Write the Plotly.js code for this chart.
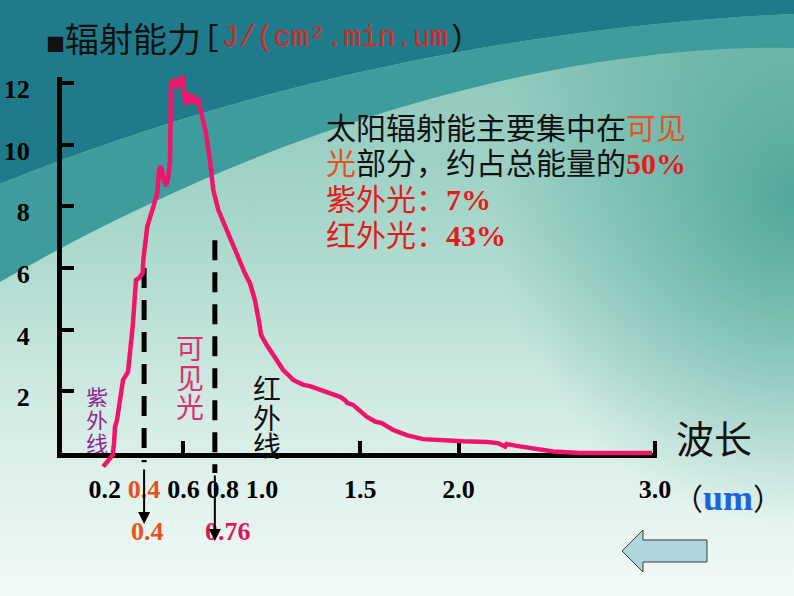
<!DOCTYPE html>
<html><head><meta charset="utf-8">
<script src="https://cdn.plot.ly/plotly-3.0.1.min.js"></script>
<style>
html,body{margin:0;padding:0;background:#fff;}
#chart{width:794px;height:596px;background:
 radial-gradient(ellipse 300px 330px at 100% 33%, rgba(72,164,150,0.9), rgba(72,164,150,0) 100%),
 linear-gradient(180deg, #86c3b6 0%, #a8d7cb 38%, #d4ece5 70%, #f2faf7 100%);}
</style></head><body><div id="chart"></div>
<script>
// ---- data ----
const wavelength = [0.192,0.216,0.240,0.247,0.252,0.262,0.286,0.293,0.318,0.328,0.342,0.354,0.359,0.376,0.393,0.396,0.405,0.416,0.447,0.467,0.476,0.484,0.501,0.511,0.523,0.532,0.537,0.557,0.569,0.586,0.596,0.603,0.610,0.625,0.639,0.650,0.664,0.676,0.693,0.715,0.735,0.752,0.778,0.812,0.846,0.879,0.913,0.939,0.964,0.986,0.995,1.024,1.066,1.108,1.159,1.210,1.244,1.329,1.397,1.422,1.433,1.463,1.489,1.533,1.575,1.609,1.667,1.736,1.819,1.921,2.023,2.145,2.201,2.237,2.244,2.288,2.364,2.481,2.618,2.786,2.985];
const radiation = [-0.44,-0.28,-0.07,0.32,0.85,1.07,1.95,2.37,2.63,3.24,4.10,5.19,5.61,5.68,5.84,6.26,6.91,7.34,7.99,8.43,9.18,9.31,8.86,8.66,8.96,9.50,11.99,12.12,11.83,12.15,12.21,11.77,11.29,11.67,11.34,11.61,11.39,11.45,10.91,10.37,9.50,8.53,7.88,7.34,6.85,6.37,5.83,5.50,4.96,4.21,3.83,3.50,3.07,2.69,2.37,2.21,2.17,1.99,1.82,1.72,1.63,1.56,1.43,1.18,1.02,0.97,0.75,0.58,0.45,0.40,0.38,0.36,0.32,0.21,0.29,0.24,0.16,0.05,0,0,0];
const bandEdges = [0.4, 0.76];          // visible-light boundaries (um)
const bandTops = [6.0, 6.9];            // height of dashed markers
const bandBottoms = [-0.3, -0.65];
const yTickVals = [2,4,6,8,10,12];
const yTickText = ['2','4','6','8','10','12'];
const xTickVals = [0.2,0.4,0.6,0.8,1.0,1.5,2.0,3.0];
const xTickText = ['0.2','<span style="color:#e8501e">0.4</span>','0.6','0.8','1.0','1.5','2.0','3.0'];
const xMarkTicks = [0.6,1.5,2.0,3.0];

// ---- geometry helpers (layout only) ----
const W=794,H=596;
const fx=p=>p/W, fy=p=>1-p/H;
const P=(x,y)=>`${(x/W).toFixed(4)},${(1-y/H).toFixed(4)}`;
const Y0=453, PXU=30.83;
const CJK='Noto Sans CJK SC', SERIF='Liberation Serif';

const traces=[];
// invisible trace so that the main (axis-bearing) subplot exists
traces.push({x:bandEdges,y:bandTops,xaxis:'x',yaxis:'y',mode:'none',hoverinfo:'skip',showlegend:false});
bandEdges.forEach((v,i)=>traces.push({x:[v,v],y:[bandTops[i],bandBottoms[i]],xaxis:'x',yaxis:'y2',mode:'lines',
  line:{color:'#000',width:5,dash:'20px,12px'},hoverinfo:'skip',showlegend:false}));
traces.push({x:wavelength,y:radiation,xaxis:'x',yaxis:'y2',mode:'lines',line:{color:'#f0146a',width:4.5},showlegend:false});

const ann=[];
function txt(t,x,y,size,color,opts={}){ann.push(Object.assign({xref:'paper',yref:'paper',x:fx(x),y:fy(y),text:t,showarrow:false,
  xanchor:'center',yanchor:'middle',font:{family:CJK,size:size,color:color}},opts));}
// title
txt('<span style="font-size:19px">■</span>辐射能力',44,37,34,'#111',{xanchor:'left'});
ann.push({xref:'paper',yref:'paper',x:fx(202),y:fy(39),xanchor:'left',yanchor:'middle',showarrow:false,
  text:'[<span style="color:#e02424">J/(cm².min.um</span>)',font:{family:'Liberation Mono',size:29,color:'#111'}});
// info block
const red='#e51b1b', orange='#e8521e';
const pct=s=>`<span style="font-family:${SERIF};font-weight:bold;color:${red}">${s}</span>`;
txt(`太阳辐射能主要集中在<span style="color:${orange}">可见</span>`,324,126,30,'#111',{xanchor:'left'});
txt(`<span style="color:${orange}">光</span>部分，约占总能量的${pct('50%')}`,324,161,30,'#111',{xanchor:'left'});
txt(`紫外光：${pct('7%')}`,324,197,30,red,{xanchor:'left'});
txt(`红外光：${pct('43%')}`,324,233,30,red,{xanchor:'left'});
// vertical labels (one glyph per annotation, tight boxes)
['紫','外','线'].forEach((c,i)=>txt(c,97,396+i*23,22,'#8e2a94',{height:22,borderpad:0}));
['可','见','光'].forEach((c,i)=>txt(c,190,347+i*29.5,28,'#df2f70',{height:28,borderpad:0}));
['红','外','线'].forEach((c,i)=>txt(c,267,388+i*28.5,28,'#111',{height:28,borderpad:0}));
// axis name
txt('波长',714,436,38,'#111');
txt(`（<span style="font-family:${SERIF};font-weight:bold;color:#1f62e0;font-size:36px">um</span>）`,728,497,30,'#111');
// bottom boundary labels + arrows
ann.push({xref:'x',yref:'paper',x:bandEdges[0],y:fy(531),yanchor:'middle',xanchor:'center',text:'0.4',showarrow:false,xshift:3,font:{family:SERIF,size:26,color:orange,weight:'bold'}});
ann.push({xref:'x',yref:'paper',x:bandEdges[1],y:fy(531),yanchor:'middle',xanchor:'center',text:'0.76',showarrow:false,xshift:13,font:{family:SERIF,size:26,color:'#e0145a',weight:'bold'}});
ann.push({xref:'x',yref:'paper',x:bandEdges[0],y:fy(524),ax:0,ay:-56,text:'',showarrow:true,arrowhead:2,arrowsize:1.2,arrowwidth:2,arrowcolor:'#000'});
ann.push({xref:'x',yref:'paper',x:bandEdges[1],y:fy(541),ax:0,ay:-67,text:'',showarrow:true,arrowhead:2,arrowsize:1.2,arrowwidth:2,arrowcolor:'#000'});

const shapes=[
 {type:'path',xref:'paper',yref:'paper',layer:'below',line:{width:0},fillcolor:'#1f7b8a',
  path:`M${P(0,0)} L${P(794,0)} L${P(794,14)} C${P(600,22)} ${P(300,62)} ${P(0,184)} Z`},
 {type:'path',xref:'paper',yref:'paper',layer:'below',line:{width:0},fillcolor:'#3e9c9d',
  path:`M${P(0,184)} C${P(300,62)} ${P(600,22)} ${P(794,14)} L${P(794,48)} C${P(620,44)} ${P(330,92)} ${P(0,282)} Z`},
 {type:'path',xref:'paper',yref:'paper',layer:'above',line:{width:1,color:'#3a3a3a'},fillcolor:'#aed6dc',
  path:`M${P(622,551)} L${P(643,530)} L${P(643,540)} L${P(707,540)} L${P(707,562)} L${P(643,562)} L${P(643,572)} Z`}
];

const layout={width:W,height:H,margin:{l:0,r:0,t:0,b:0},paper_bgcolor:'rgba(0,0,0,0)',plot_bgcolor:'rgba(0,0,0,0)',
 showlegend:false,
 xaxis:{domain:[fx(62),fx(657)],range:[-0.0178,3.01],anchor:'y',showgrid:false,zeroline:false,showline:true,linewidth:5,linecolor:'#000',
   tickmode:'array',tickvals:xTickVals,ticktext:xTickText,ticks:'',ticklabelstandoff:9,ticklabelshift:0,
   tickfont:{family:SERIF,size:26,color:'#000',weight:'bold'},
   minor:{tickmode:'array',tickvals:xMarkTicks,ticks:'inside',ticklen:12,tickwidth:4,tickcolor:'#000'}},
 yaxis:{domain:[fy(Y0),fy(Y0-12.2*PXU)],range:[0,12.2],anchor:'x',showgrid:false,zeroline:false,showline:true,linewidth:5,linecolor:'#000',
   tickmode:'array',tickvals:yTickVals,ticktext:yTickText,ticks:'inside',ticklen:12,tickwidth:4,tickcolor:'#000',
   ticklabelstandoff:22,ticklabelshift:6,tickfont:{family:SERIF,size:26,color:'#000',weight:'bold'}},
 yaxis2:{domain:[fy(Y0+1.2*PXU),fy(Y0-12.5*PXU)],range:[-1.2,12.5],anchor:'x',visible:false},
 annotations:ann,shapes:shapes};
Plotly.newPlot('chart',traces,layout,{displayModeBar:false,staticPlot:true});
</script></body></html>
